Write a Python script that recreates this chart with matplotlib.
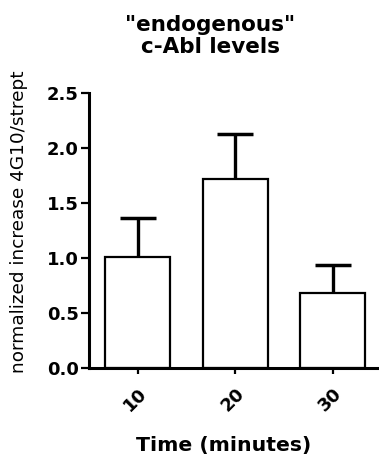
import matplotlib
matplotlib.use("Agg")
import matplotlib.pyplot as plt
import matplotlib.transforms as mtransforms
import numpy as np

categories = ["10", "20", "30"]
values = [1.01, 1.72, 0.68]
errors = [0.355, 0.41, 0.26]
yticks = [0.0, 0.5, 1.0, 1.5, 2.0, 2.5]
ytick_labels = ["0.0", "0.5", "1.0", "1.5", "2.0", "2.5"]

plt.rcParams['font.family'] = ['DejaVu Sans']

fig = plt.figure(figsize=(3.79, 4.59), dpi=100)
ax = fig.add_axes([89/379, 1 - 368/459, (377-89)/379, (368-93)/459])

x = np.arange(len(categories))
vals = np.array(values)
errs = np.array(errors)

ax.vlines(x, vals, vals + errs, color='black', linewidth=2.4, zorder=1)
ax.hlines(vals + errs, x - 0.185, x + 0.185, color='black', linewidth=2.5, zorder=1)
ax.bar(x, vals, width=0.67, color='white', edgecolor='black', linewidth=1.6, zorder=2)

ax.set_xlim(-0.5, 2.454)
ax.set_ylim(0, 2.5)
ax.set_yticks(yticks)
ax.set_yticklabels(ytick_labels, fontsize=13, fontweight='bold')
ax.set_xticks(x)
ax.set_xticklabels(categories, fontsize=13, fontweight='bold', rotation=45,
                   ha='right', va='top', rotation_mode='anchor')
offset = mtransforms.ScaledTranslation(-4/100, 1/100, fig.dpi_scale_trans)
for lab in ax.get_xticklabels():
    lab.set_transform(lab.get_transform() + offset)

for side in ['top', 'right']:
    ax.spines[side].set_visible(False)
for side in ['left', 'bottom']:
    ax.spines[side].set_linewidth(2.2)
ax.tick_params(axis='y', direction='out', length=5.5, width=1.6, pad=2)
ax.tick_params(axis='x', direction='out', length=4.5, width=1.6, pad=7)

fig.text(210/379, 1 - 36/459, '"endogenous"\nc-Abl levels', ha='center', va='center',
         fontsize=15.5, fontweight='bold', linespacing=1.15)
fig.text(19.5/379, 1 - 222/459, 'normalized increase 4G10/strept', rotation=90,
         ha='center', va='center', fontsize=13.3)
fig.text(224/379, 1 - 445/459, 'Time (minutes)', ha='center', va='center',
         fontsize=14.7, fontweight='bold')

fig.savefig('out.png', dpi=100)
